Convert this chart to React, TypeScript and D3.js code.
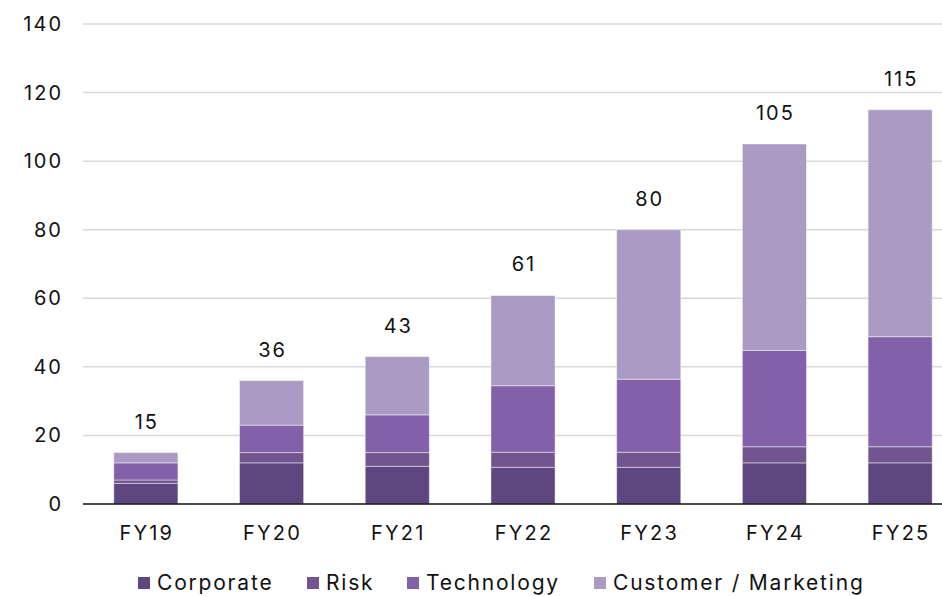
import { useEffect, useRef } from 'react'
import * as d3 from 'd3'

const categories = ['FY19', 'FY20', 'FY21', 'FY22', 'FY23', 'FY24', 'FY25']
const seriesNames = ['Corporate', 'Risk', 'Technology', 'Customer / Marketing']
const corporate = [6, 12, 11, 10.7, 10.7, 12, 12]
const risk = [1, 3, 4, 4.4, 4.4, 4.7, 4.7]
const technology = [5, 8, 11, 19.4, 21.3, 28.1, 32.1]
const customer = [3, 13, 17, 26.3, 43.6, 60.2, 66.2]
const totals = [15, 36, 43, 61, 80, 105, 115]
const yTicks = [0, 20, 40, 60, 80, 100, 120, 140]
const colors = ['#5e4680', '#72548f', '#8260aa', '#ab9bc4']

const W = 942
const H = 596
const FONT = 'Inter, "Open Sans", sans-serif'

export default function App() {
  const svgRef = useRef<SVGSVGElement>(null)

  useEffect(() => {
    document.body.style.margin = '0'
    if (!svgRef.current) return
    const svg = d3.select(svgRef.current)
    svg.selectAll('*').remove()

    const left = 83
    const x = d3.scaleBand().domain(categories).range([left, 963]).paddingInner(0.49).paddingOuter(0.245)
    const y = d3.scaleLinear().domain([0, 140]).range([504, 24])

    // grid
    svg.append('g')
      .selectAll('line')
      .data(yTicks.filter(t => t > 0))
      .join('line')
      .attr('x1', left).attr('x2', W)
      .attr('y1', d => y(d)).attr('y2', d => y(d))
      .attr('stroke', '#d9d9d9').attr('stroke-width', 1.5)

    // y labels
    svg.append('g')
      .selectAll('text')
      .data(yTicks)
      .join('text')
      .attr('x', 63).attr('y', d => y(d))
      .attr('dy', '0.35em')
      .attr('text-anchor', 'end')
      .attr('font-family', FONT).attr('font-size', 20).attr('fill', '#111')
      .attr('letter-spacing', 2)
      .text(d => d)

    const rows = categories.map((c, i) => ({
      cat: c,
      Corporate: corporate[i],
      Risk: risk[i],
      Technology: technology[i],
      'Customer / Marketing': customer[i],
    }))
    const stacked = d3.stack<any>().keys(seriesNames)(rows)

    svg.append('g')
      .selectAll('g')
      .data(stacked)
      .join('g')
      .attr('fill', (_, i) => colors[i])
      .selectAll('rect')
      .data(d => d)
      .join('rect')
      .attr('x', d => x(d.data.cat)!)
      .attr('width', x.bandwidth())
      .attr('y', d => y(d[1]))
      .attr('height', d => y(d[0]) - y(d[1]))
      .attr('stroke', 'rgba(255,255,255,0.45)')
      .attr('stroke-width', 1)

    // totals
    svg.append('g')
      .selectAll('text')
      .data(categories)
      .join('text')
      .attr('x', d => x(d)! + x.bandwidth() / 2 + 1)
      .attr('y', (_, i) => y(totals[i]) - 31)
      .attr('dy', '0.35em')
      .attr('text-anchor', 'middle')
      .attr('font-family', FONT).attr('font-size', 20).attr('fill', '#111')
      .attr('letter-spacing', 2)
      .text((_, i) => totals[i])

    // baseline
    svg.append('line')
      .attr('x1', left).attr('x2', W)
      .attr('y1', y(0)).attr('y2', y(0))
      .attr('stroke', '#111').attr('stroke-width', 1.5)

    // x labels
    svg.append('g')
      .selectAll('text')
      .data(categories)
      .join('text')
      .attr('x', d => x(d)! + x.bandwidth() / 2 + 1)
      .attr('y', 533)
      .attr('dy', '0.35em')
      .attr('text-anchor', 'middle')
      .attr('font-family', FONT).attr('font-size', 20).attr('fill', '#111')
      .attr('letter-spacing', 2.2)
      .text(d => d)

    // legend
    const legendX = [138, 307, 407, 594]
    const legend = svg.append('g')
    seriesNames.forEach((s, i) => {
      legend.append('rect')
        .attr('x', legendX[i]).attr('y', 577)
        .attr('width', 12).attr('height', 12)
        .attr('fill', colors[i])
      legend.append('text')
        .attr('x', legendX[i] + 19).attr('y', 583)
        .attr('dy', '0.35em')
        .attr('font-family', FONT).attr('font-size', 21).attr('fill', '#111')
        .attr('letter-spacing', 1.8)
        .text(s)
    })
  }, [])

  return <svg ref={svgRef} width={W} height={H} style={{ display: 'block' }} />
}
